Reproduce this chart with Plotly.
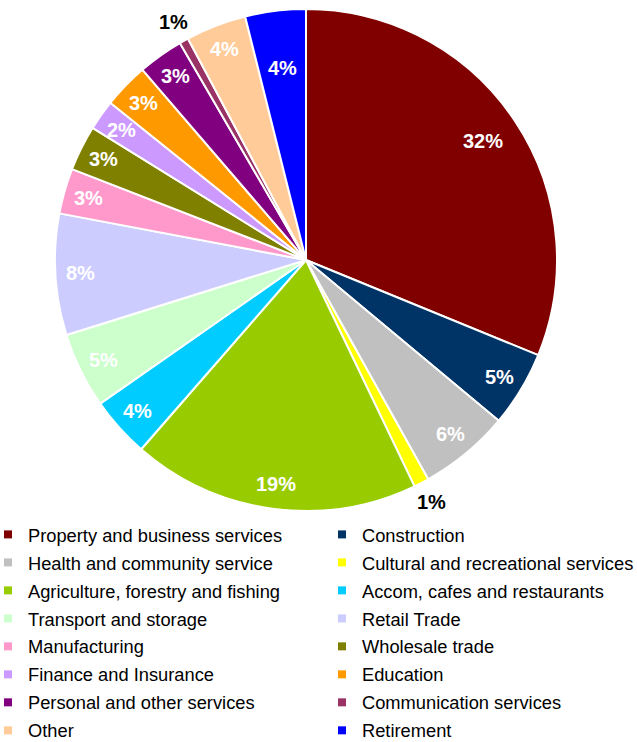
import math
import plotly.graph_objects as go

# Share of businesses by industry (%)
industries = [
    "Property and business services", "Construction",
    "Health and community service", "Cultural and recreational services",
    "Agriculture, forestry and fishing", "Accom, cafes and restaurants",
    "Transport and storage", "Retail Trade",
    "Manufacturing", "Wholesale trade",
    "Finance and Insurance", "Education",
    "Personal and other services", "Communication services",
    "Other", "Retirement",
]
shares = [32, 5, 6, 1, 19, 4, 5, 8, 3, 3, 2, 3, 3, 0.6, 4, 4]
colors = [
    "#800000", "#003366", "#C0C0C0", "#FFFF00",
    "#99CC00", "#00CCFF", "#CCFFCC", "#CCCCFF",
    "#FF99CC", "#808000", "#CC99FF", "#FF9900",
    "#800080", "#993366", "#FFCC99", "#0000FF",
]

W, H = 637, 742
# pie placement in pixels (centre and radius)
CX, CY, R = 306, 260, 251
FONT = "Liberation Sans, Arial"

fig = go.Figure(go.Pie(
    labels=industries,
    values=shares,
    sort=False,
    direction="clockwise",
    rotation=0,
    marker=dict(colors=colors, line=dict(color="white", width=2)),
    textinfo="none",
    hoverinfo="label+value",
    showlegend=False,
    domain=dict(x=[(CX - R) / W, (CX + R) / W],
                y=[(H - CY - R) / H, (H - CY + R) / H]),
))

# legend entries laid out in two columns (left: even items, right: odd items)
for i, (name, col) in enumerate(zip(industries, colors)):
    fig.add_trace(go.Scatter(
        x=[None], y=[None], mode="markers", name=name,
        marker=dict(symbol="square", size=8, color=col),
        legend="legend" if i % 2 == 0 else "legend2",
        legendgroup=name, showlegend=True, hoverinfo="skip",
    ))

# value labels: inside near the rim, thin slices labelled outside in black
outside = {"Cultural and recreational services", "Communication services"}
radial = {"Property and business services": 0.85, "Retirement": 0.77}
total = sum(shares)
cum = 0.0
for name, v in zip(industries, shares):
    mid = (cum + v / 2) / total * 2 * math.pi
    cum += v
    if name in outside:
        rr, col = 1.085, "black"
    else:
        rr, col = radial.get(name, 0.9), "white"
    px = CX + rr * R * math.sin(mid)
    py = CY - rr * R * math.cos(mid)
    fig.add_annotation(
        x=px / W, y=1 - py / H, xref="paper", yref="paper",
        text=f"{math.floor(v + 0.5):d}%", showarrow=False,
        font=dict(family=FONT, size=20, color=col, weight="bold"),
        xanchor="center", yanchor="middle",
    )

legend_style = dict(
    orientation="v", yanchor="top", xanchor="left",
    y=1 - 516 / H,
    font=dict(family=FONT, size=18.3, color="black"),
    tracegroupgap=1.2, itemsizing="trace",
    bgcolor="rgba(0,0,0,0)",
)

fig.update_layout(
    width=W, height=H,
    margin=dict(l=0, r=0, t=0, b=0, autoexpand=False),
    paper_bgcolor="white",
    plot_bgcolor="white",
    xaxis=dict(visible=False),
    yaxis=dict(visible=False),
    showlegend=True,
    legend=dict(x=-12 / W, **legend_style),
    legend2=dict(x=322 / W, **legend_style),
)

fig.write_html("out.html")
